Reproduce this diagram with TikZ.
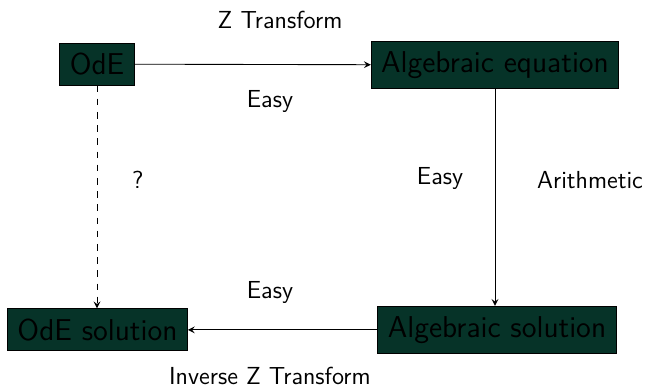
\documentclass[tikz,border=0pt]{standalone}
\renewcommand{\familydefault}{\sfdefault}
\definecolor{boxColor}{RGB}{6,51,40}
\tikzset{
  stepbox/.style={draw=black,fill=boxColor,text=black,inner sep=4.5pt,font=\fontsize{13.7}{16}\selectfont},
  lbl/.style={inner sep=0pt,outer sep=0pt,font=\fontsize{11.2}{13}\selectfont}
}
\begin{document}
\begin{tikzpicture}[x=1pt,y=1pt,>=stealth]
\path[use as bounding box] (0,0) rectangle (295.00,175.45);

\node[stepbox] (ode) at ( 44.10,146.30) {OdE};
\node[stepbox] (algeq) at (225.00,145.90) {Algebraic equation};
\node[stepbox] (odesol) at ( 44.30, 25.50) {OdE solution};
\node[stepbox] (algsol) at (225.90, 25.50) {Algebraic solution};

\draw[->] (ode) -- (algeq);
\draw[->] (algeq.south) -- (algeq.south |- algsol.north);
\draw[->] (algsol) -- (odesol);
\draw[dashed,->] (ode.south) -- (ode.south |- odesol.north);

\node[lbl] (ztrans) at (127.30,166.30) {Z Transform};
\node[lbl] (easytop) at (122.70,129.10) {Easy};
\node[lbl] (unknown) at ( 62.70, 93.60) {?};
\node[lbl] (easyright) at (200.00, 94.50) {Easy};
\node[lbl] (arith) at (268.20, 93.60) {Arithmetic};
\node[lbl] (easybottom) at (122.70, 42.70) {Easy};
\node[lbl] (invztrans) at (122.70,  4.60) {Inverse Z Transform};
\end{tikzpicture}
\end{document}
